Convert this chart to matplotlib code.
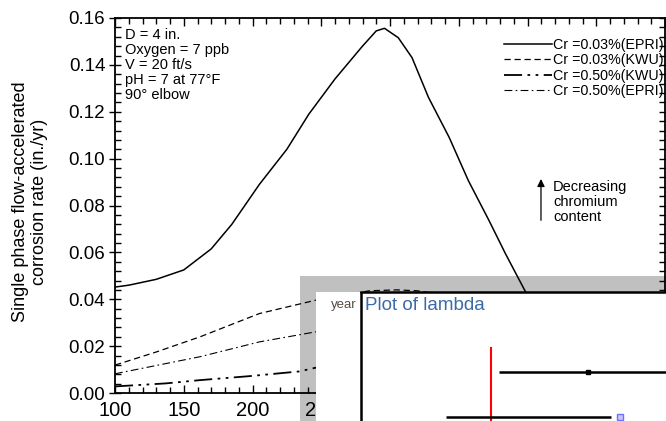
import matplotlib
matplotlib.use("Agg")
import matplotlib.pyplot as plt
from matplotlib.patches import Rectangle
from matplotlib.ticker import MultipleLocator, FuncFormatter

plt.rcParams['font.family'] = ['Liberation Sans', 'DejaVu Sans']

# ---- main chart data (temperature F vs corrosion rate in./yr) ----
t_epri_003 = [100, 110, 130, 150, 170, 185, 205, 225, 241, 260, 280, 290, 296, 306, 316, 328, 343, 357, 372, 384, 398, 410, 425]
v_epri_003 = [0.0452, 0.0460, 0.0485, 0.0525, 0.0615, 0.0720, 0.0890, 0.1040, 0.1190, 0.1340, 0.1480, 0.1545, 0.1556,
              0.1516, 0.1431, 0.1261, 0.1091, 0.0906, 0.0736, 0.0594, 0.0438, 0.0310, 0.0180]
t_kwu_003 = [100, 130, 162, 205, 246, 285, 305, 320, 350, 400]
v_kwu_003 = [0.0119, 0.0175, 0.0240, 0.0339, 0.0396, 0.0436, 0.0440, 0.0436, 0.0410, 0.0330]
t_kwu_050 = [100, 137, 162, 198, 234, 246, 300, 350, 400]
v_kwu_050 = [0.0028, 0.0041, 0.0055, 0.0072, 0.0092, 0.0108, 0.0140, 0.0160, 0.0150]
t_epri_050 = [100, 162, 205, 246, 300, 350, 400]
v_epri_050 = [0.0082, 0.0155, 0.0218, 0.0261, 0.0300, 0.0310, 0.0280]
labels = ["Cr =0.03%(EPRI)", "Cr =0.03%(KWU)", "Cr =0.50%(KWU)", "Cr =0.50%(EPRI)"]
conditions = ["D = 4 in.", "Oxygen = 7 ppb", "V = 20 ft/s", "pH = 7 at 77°F", "90° elbow"]
y_label = "Single phase flow-accelerated\ncorrosion rate (in./yr)"
arrow_text = "Decreasing\nchromium\ncontent"

# ---- overlay "Plot of lambda" window data ----
lam_rows = [1, 2]
lam_lo = [1.08, 0.55]
lam_hi = [3.00, 2.20]
lam_est = [1.97]
lam_ref = 1.0
lam_extra = [2.29]

W, H = 666, 421
fig = plt.figure(figsize=(W / 100, H / 100), dpi=100)
fig.patch.set_facecolor('white')

# grey window frame behind the overlay (lines remain visible on it)
fig.add_artist(Rectangle((300 / W, 0), 366 / W, 145 / H, transform=fig.transFigure,
                         facecolor='#c0c0c0', edgecolor='none', zorder=-1))

ax = fig.add_axes([115 / W, 28 / H, 550 / W, 375 / H])
ax.set_facecolor('none')
ax.plot(t_epri_003, v_epri_003, color='black', lw=1.1, label=labels[0])
ax.plot(t_kwu_003, v_kwu_003, color='black', lw=0.9, dashes=(5, 3), label=labels[1])
ax.plot(t_kwu_050, v_kwu_050, color='black', lw=1.3, dashes=(10, 3, 1.5, 3, 1.5, 3), label=labels[2])
ax.plot(t_epri_050, v_epri_050, color='black', lw=0.8, dashes=(7, 3, 1.5, 3), label=labels[3])

ax.set_xlim(100, 500)
ax.set_ylim(0, 0.16)
ax.xaxis.set_major_locator(MultipleLocator(50))
ax.xaxis.set_minor_locator(MultipleLocator(10))
ax.xaxis.set_major_formatter(FuncFormatter(lambda v, p: '' if v >= 500 else '%d' % v))
ax.yaxis.set_major_locator(MultipleLocator(0.02))
ax.yaxis.set_minor_locator(MultipleLocator(0.004))
ax.yaxis.set_major_formatter(FuncFormatter(lambda v, p: '%.2f' % v))
ax.tick_params(axis='both', which='both', top=True, right=True, direction='in', width=1.0)
ax.tick_params(axis='y', which='major', direction='inout', length=8, labelsize=13.5, pad=3)
ax.tick_params(axis='y', which='minor', length=4)
ax.tick_params(axis='x', which='major', length=6, labelsize=14.5, pad=6)
ax.tick_params(axis='x', which='minor', length=4)
for s in ax.spines.values():
    s.set_linewidth(1.3)

fig.text(30 / W, 0.52, y_label, rotation=90, ha='center', va='center', fontsize=13, linespacing=1.1)

ax.text(0.018, 0.974, "\n".join(conditions), transform=ax.transAxes, ha='left', va='top',
        fontsize=10.5, linespacing=1.1)

leg = ax.legend(loc='upper right', bbox_to_anchor=(0.998, 0.946), frameon=False, fontsize=10.3,
                handlelength=3.35, handletextpad=0.12, labelspacing=0.08, borderpad=0, borderaxespad=0)

ax.annotate("", xy=(409.8, 0.0925), xytext=(409.8, 0.0725),
            arrowprops=dict(arrowstyle='-|>', color='black', lw=0.9, mutation_scale=11))
ax.text(418.5, 0.0815, arrow_text, ha='left', va='center', fontsize=10.5, linespacing=1.08)

# ---- overlay window ----
ax2 = fig.add_axes([316 / W, 0, 350 / W, 129 / H])
ax2.set_zorder(10)
ax2.set_facecolor('white')
ax2.set_xlim(-0.75, 2.75)
ax2.set_ylim(2.077, -0.758)
for k in ['left', 'right', 'bottom']:
    ax2.spines[k].set_visible(False)
ax2.spines['top'].set_bounds(-0.30, 2.75)
ax2.spines['top'].set_linewidth(1.8)
ax2.set_xticks([])
ax2.set_yticks([])
ax2.axvline(-0.30, color='black', lw=1.8)
ax2.plot([lam_ref, lam_ref], [0.473, 2.2], color='red', lw=1.5)
ax2.hlines(lam_rows, lam_lo, lam_hi, color='black', lw=1.8)
ax2.plot(lam_est, lam_rows[:1], 's', color='black', ms=3)
ax2.plot(lam_extra, lam_rows[1:], 's', color='#7070ff', mfc='#c8c8ff', ms=4, mew=1)
ax2.text(-0.34, -0.47, "year", ha='right', va='center', fontsize=9.5, color='#5a4a44')
ax2.text(-0.26, -0.47, "Plot of lambda", ha='left', va='center', fontsize=13.5, color='#3a6aa8')

fig.savefig("out.png", dpi=100)
